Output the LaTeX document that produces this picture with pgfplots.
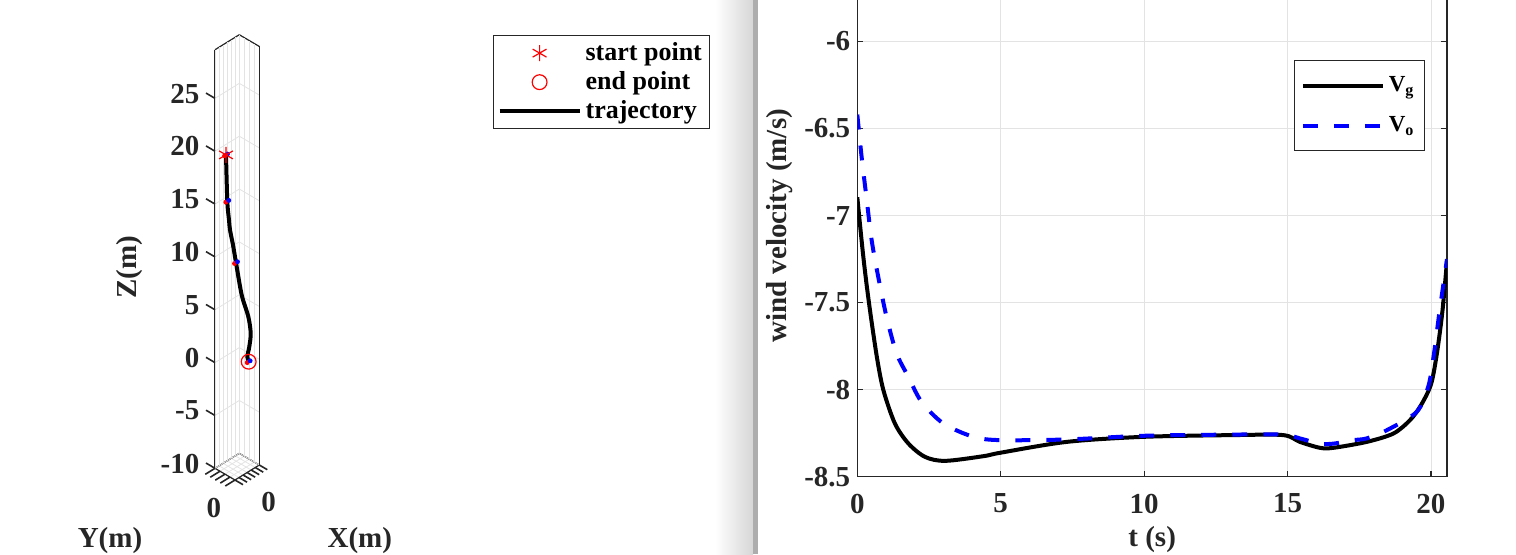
\documentclass[border=0pt]{standalone}
\usepackage{fontspec}
\setmainfont{Liberation Serif}
\usepackage{pgfplots}
\pgfplotsset{compat=1.18}
\definecolor{axgray}{HTML}{262626}
\definecolor{gridgray}{HTML}{E3E3E3}
\begin{document}
\begin{tikzpicture}[font=\bfseries\fontsize{14.5}{17}\selectfont]
\path[use as bounding box] (0,0) rectangle (758pt,277pt);
\shade[left color=white,right color=black!16] (357.5pt,0) rectangle (376.5pt,277pt);
\fill[black!32] (376.5pt,0) rectangle (379pt,277pt);

% ---------------- 3D trajectory axis ----------------
\begin{axis}[
  x={(6.075pt,3.75pt)}, y={(-5pt,2.925pt)}, z={(0pt,5.285pt)},
  xmin=-1,xmax=1,ymin=-1,ymax=1,zmin=-10,zmax=29.6,
  at={(107.5pt,37pt)}, anchor=south west,
  clip=false, unbounded coords=jump,
  axis line style={axgray, line width=0.6pt},
  grid=major, major grid style={gridgray, line width=0.4pt},
  xtick={-1,-0.6667,-0.3333,0,0.3333,0.6667,1}, xticklabels={,,,0,,,},
  ytick={-1,-0.5,0,0.5,1}, yticklabels={,,0,,},
  ztick={-10,-5,0,5,10,15,20,25}, zticklabels={-10,-5,0,5,10,15,20,25},
  xtick pos=left, ytick pos=left, ztick pos=left,
  tick align=outside, major tick length=5pt,
  tick style={draw=none},
  tick label style={text=axgray},
  xticklabel style={xshift=1pt, yshift=-2.5pt},
  yticklabel style={xshift=4pt, yshift=-5pt},
  every axis x label/.style={at={(axis description cs:3.27,-0.135)},anchor=center,text=axgray},
  every axis y label/.style={at={(axis description cs:-2.37,-0.135)},anchor=center,text=axgray},
  every axis z label/.style={at={(axis description cs:-1.92,0.478)},anchor=center,rotate=90,text=axgray},
  xlabel={X(m)}, ylabel={Y(m)}, zlabel={Z(m)},
]
% tick marks on the outer edges, as MATLAB draws them
\addplot3[axgray, line width=0.8pt, forget plot] coordinates {
 (-1,1,-10) (-1,1.9,-10) (nan,nan,nan)
 (-1,1,-5) (-1,1.9,-5) (nan,nan,nan)
 (-1,1,0) (-1,1.9,0) (nan,nan,nan)
 (-1,1,5) (-1,1.9,5) (nan,nan,nan)
 (-1,1,10) (-1,1.9,10) (nan,nan,nan)
 (-1,1,15) (-1,1.9,15) (nan,nan,nan)
 (-1,1,20) (-1,1.9,20) (nan,nan,nan)
 (-1,1,25) (-1,1.9,25)};
\addplot3[axgray, line width=0.8pt, forget plot] coordinates {
 (-1,-1,-10) (-1.8,-1,-10) (nan,nan,nan)
 (-1,-0.5,-10) (-1.8,-0.5,-10) (nan,nan,nan)
 (-1,0,-10) (-1.8,0,-10) (nan,nan,nan)
 (-1,0.5,-10) (-1.8,0.5,-10) (nan,nan,nan)
 (-1,1,-10) (-1.8,1,-10)};
\addplot3[axgray, line width=0.8pt, forget plot] coordinates {
 (-1,-1,-10) (-1,-1.8,-10) (nan,nan,nan)
 (-0.6667,-1,-10) (-0.6667,-1.8,-10) (nan,nan,nan)
 (-0.3333,-1,-10) (-0.3333,-1.8,-10) (nan,nan,nan)
 (0,-1,-10) (0,-1.8,-10) (nan,nan,nan)
 (0.3333,-1,-10) (0.3333,-1.8,-10) (nan,nan,nan)
 (0.6667,-1,-10) (0.6667,-1.8,-10) (nan,nan,nan)
 (1,-1,-10) (1,-1.8,-10)};
\addplot3[black, line width=2pt, smooth] coordinates {
 (-0.588,0.400,19.69) (-0.629,0.221,15.43) (-0.549,0.148,13.65) (-0.498,0.110,12.69)
 (-0.299,0.052,11.16) (-0.109,-0.017,9.39) (0.258,-0.142,6.14) (0.732,-0.226,3.80)
 (0.877,-0.290,2.16) (0.719,-0.342,1.03) (0.522,-0.381,0.25) (0.621,-0.400,-0.29)};
\addplot3[only marks, mark=*, mark size=1pt, red] coordinates {
 (-0.70,0.400,19.69) (-0.75,0.221,15.43) (-0.23,-0.017,9.39) (0.50,-0.400,-0.29)};
\addplot3[only marks, mark=*, mark size=1pt, blue] coordinates {
 (-0.47,0.400,19.69) (-0.51,0.221,15.43) (0.01,-0.017,9.39) (0.74,-0.400,-0.29)};
\addplot3[only marks, mark=asterisk, mark size=4pt, red, line width=0.6pt] coordinates {(-0.588,0.400,19.69)};
\addplot3[only marks, mark=o, mark size=3.7pt, red, line width=0.6pt] coordinates {(0.621,-0.400,-0.29)};
\end{axis}

% ---------------- legend of the 3D figure ----------------
\begin{axis}[
  hide axis, scale only axis, width=100pt, height=40pt,
  at={(246.5pt,259.5pt)}, anchor=north west,
  xmin=0,xmax=1,ymin=0,ymax=1,
  legend style={at={(0,1)}, anchor=north west, draw=axgray, line width=0.6pt,
    font=\bfseries\fontsize{13}{15}\selectfont, inner xsep=2pt, inner ysep=1.5pt, row sep=0pt,
    cells={anchor=west}},
  legend image code/.code={\draw[#1] (0pt,0pt) -- (40pt,0pt);},
]
\addlegendimage{legend image code/.code={\draw[red,line width=0.6pt] plot[mark=asterisk,mark size=4pt] coordinates {(20pt,0pt)};}}
\addlegendentry{start point}
\addlegendimage{legend image code/.code={\draw[red,line width=0.6pt] plot[mark=o,mark size=3.7pt] coordinates {(20pt,0pt)};}}
\addlegendentry{end point}
\addlegendimage{black, line width=2pt}
\addlegendentry{trajectory}
\end{axis}

% ---------------- wind velocity axis ----------------
\begin{axis}[
  at={(428.65pt,38.65pt)}, anchor=south west, scale only axis,
  width=294.85pt, height=250.85pt,
  xmin=0, xmax=20.56, ymin=-8.5, ymax=-5.618,
  xtick={0,5,10,15,20}, xticklabels={0,5,10,15,20},
  ytick={-8.5,-8,-7.5,-7,-6.5,-6}, yticklabels={-8.5,-8,-7.5,-7,-6.5,-6},
  grid=major, major grid style={gridgray, line width=0.4pt},
  axis line style={axgray, line width=0.6pt},
  tick align=inside, major tick length=3pt,
  tick style={axgray, line width=0.6pt},
  tick label style={text=axgray},
  xticklabel style={yshift=-5pt},
  xlabel={t (s)}, ylabel={wind velocity (m/s)},
  xlabel style={at={(axis description cs:0.5,-0.126)}, anchor=center, text=axgray},
  ylabel style={at={(axis description cs:-0.131,0.5)}, anchor=center, text=axgray},
  legend style={at={(0.9627,0.8306)}, anchor=north east, draw=axgray, line width=0.6pt,
    font=\bfseries\fontsize{11.5}{13}\selectfont, inner xsep=3pt, inner ysep=6pt, row sep=7pt,
    cells={anchor=west}},
  legend image code/.code={\draw[#1] (0pt,0pt) -- (40pt,0pt);},
]
\addplot[black, line width=2pt, smooth, tension=0.5] coordinates {
 (0,-6.895) (0.21,-7.237) (0.41,-7.505) (0.68,-7.81) (0.91,-8.003) (1.31,-8.194)
 (1.78,-8.309) (2.36,-8.386) (3.06,-8.409) (4.4,-8.382) (5.0,-8.362) (7.3,-8.30)
 (9.97,-8.271) (13.11,-8.261) (14.85,-8.261) (15.43,-8.30) (16.13,-8.334) (16.6,-8.334)
 (17.76,-8.30) (18.69,-8.252) (19.27,-8.175) (19.65,-8.09) (20.0,-7.97) (20.2,-7.80)
 (20.4,-7.55) (20.56,-7.26)};
\addlegendentry{V\textsubscript{g}}
\addplot[blue, line width=2pt, dash pattern=on 7.5pt off 8pt, smooth, tension=0.5] coordinates {
 (0,-6.42) (0.15,-6.662) (0.33,-6.911) (0.5,-7.141) (0.73,-7.352) (1.02,-7.582)
 (1.37,-7.792) (1.78,-7.926) (2.24,-8.07) (3.0,-8.194) (4.05,-8.271) (5.0,-8.29)
 (7.3,-8.286) (9.97,-8.265) (13.11,-8.258) (14.85,-8.258) (15.43,-8.28) (16.13,-8.31)
 (16.6,-8.31) (17.3,-8.29) (17.76,-8.28) (18.46,-8.233) (19.5,-8.128) (19.91,-7.98)
 (20.1,-7.8) (20.3,-7.55) (20.56,-7.25)};
\addlegendentry{V\textsubscript{o}}
\end{axis}
\end{tikzpicture}
\end{document}
